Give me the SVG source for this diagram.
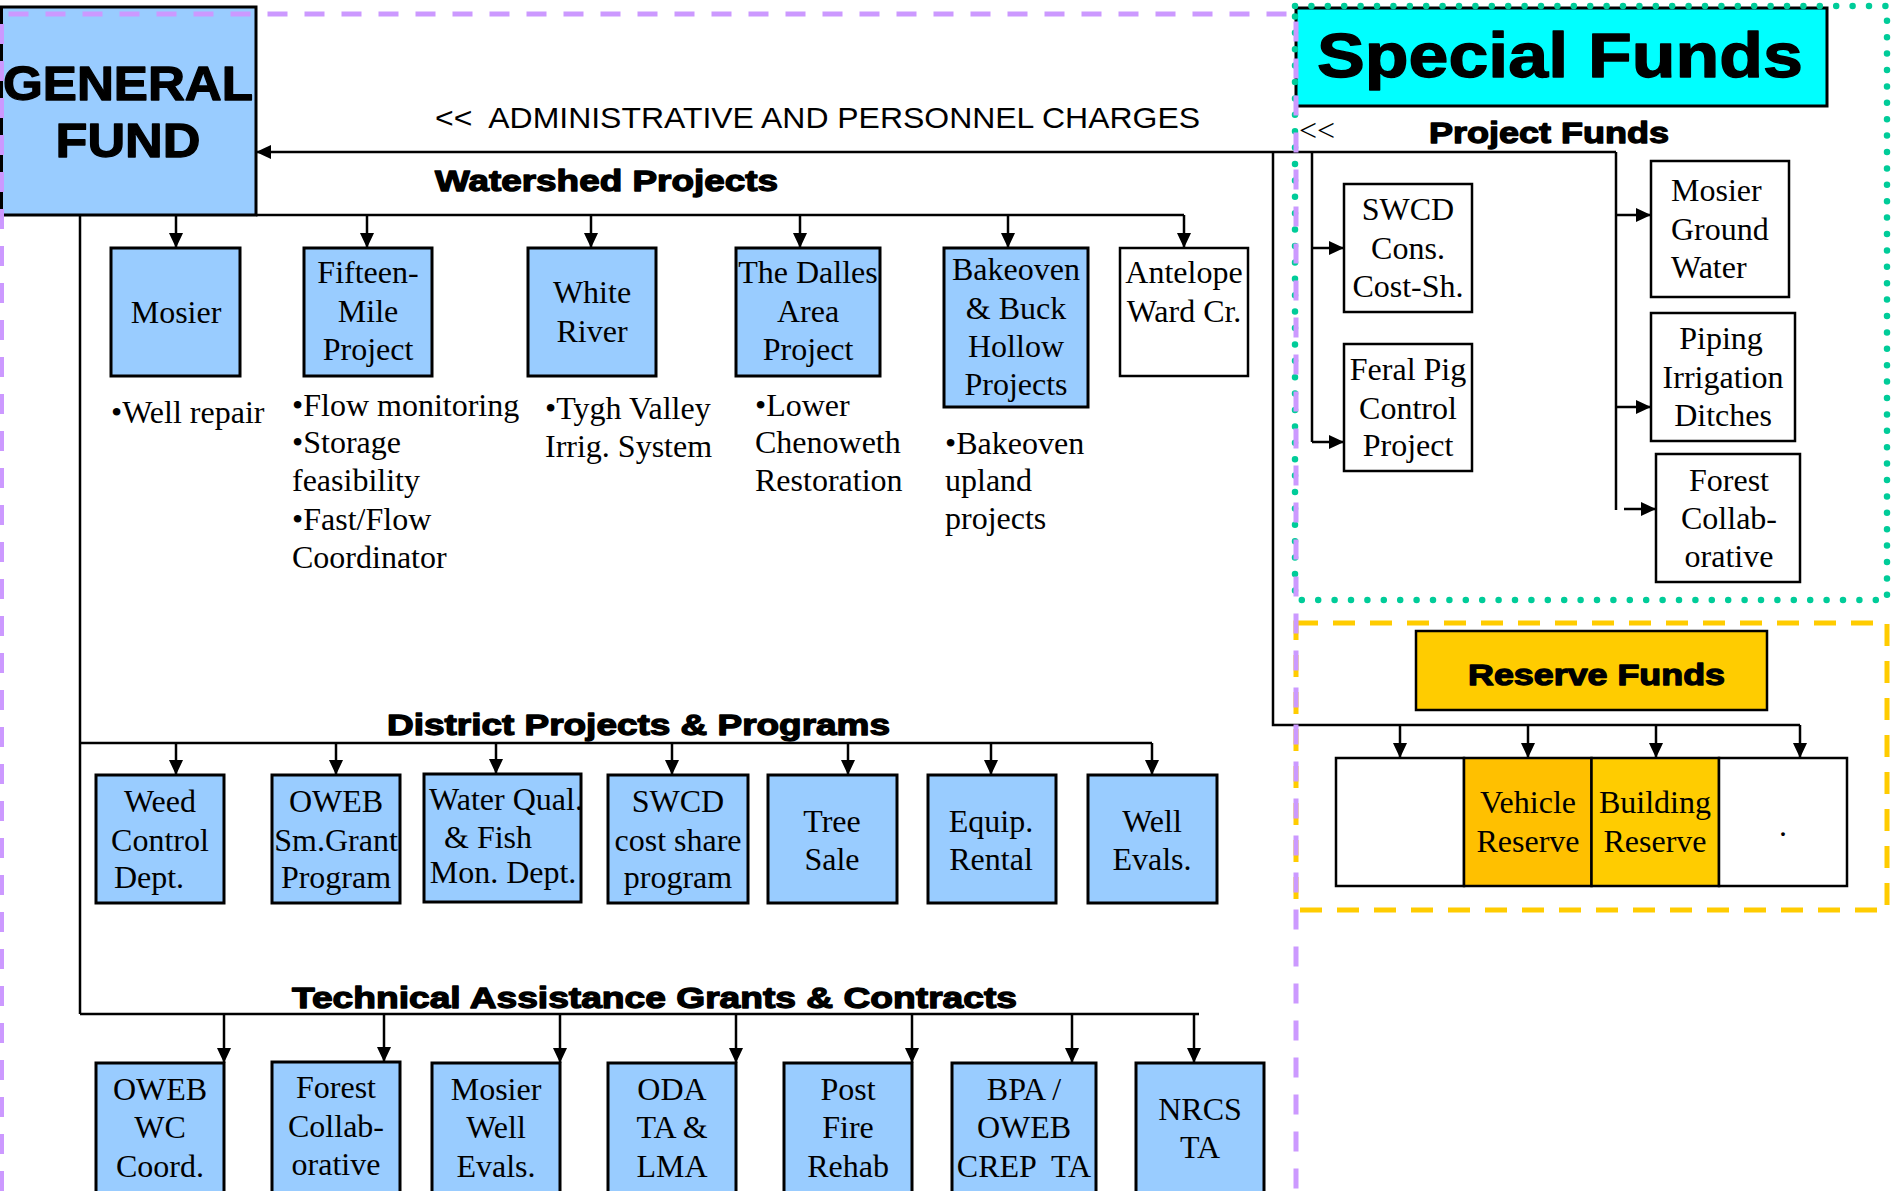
<svg xmlns="http://www.w3.org/2000/svg" width="1895" height="1191" viewBox="0 0 1895 1191">
<style>
.bg{fill:#fff}
.nb{fill:#99CCFF;stroke:#000;stroke-width:3}
.nw{fill:#fff;stroke:#000;stroke-width:2.5}
.t{font-family:"Liberation Serif","Times New Roman",serif;font-size:32px;fill:#000}
.m{text-anchor:middle}
.h{font-family:"Liberation Sans",Arial,sans-serif;font-weight:bold;fill:#000;stroke:#000;stroke-width:1.3;stroke-linejoin:round}
.ln{fill:none;stroke:#000;stroke-width:2.5}
.ar{fill:none;stroke:#000;stroke-width:2.5;marker-end:url(#ah)}
.pre{white-space:pre}
</style>
<defs>
<marker id="ah" viewBox="0 0 15 14" refX="15" refY="7" markerWidth="15" markerHeight="14" markerUnits="userSpaceOnUse" orient="auto"><path d="M0,0 L15,7 L0,14 z" fill="#000"/></marker>
</defs>
<rect class="bg" x="0" y="0" width="1895" height="1191"/>

<g id="connectors">
<path class="ar" d="M1616,152 H256"/>
<path class="ln" d="M256,215 H1184"/>
<path class="ar" d="M176,215 V248"/>
<path class="ar" d="M367,215 V248"/>
<path class="ar" d="M591,215 V248"/>
<path class="ar" d="M800,215 V248"/>
<path class="ar" d="M1008,215 V248"/>
<path class="ar" d="M1184,215 V248"/>
<path class="ln" d="M80,215 V1014"/>
<path class="ln" d="M80,743 H1152"/>
<path class="ar" d="M176,743 V775"/>
<path class="ar" d="M336,743 V775"/>
<path class="ar" d="M496,743 V774"/>
<path class="ar" d="M672,743 V775"/>
<path class="ar" d="M848,743 V775"/>
<path class="ar" d="M991,743 V775"/>
<path class="ar" d="M1152,743 V775"/>
<path class="ln" d="M80,1014 H1199"/>
<path class="ar" d="M224,1015 V1063"/>
<path class="ar" d="M384,1015 V1062"/>
<path class="ar" d="M560,1015 V1063"/>
<path class="ar" d="M736,1015 V1063"/>
<path class="ar" d="M912,1015 V1063"/>
<path class="ar" d="M1072,1015 V1063"/>
<path class="ar" d="M1194,1015 V1063"/>
<path class="ln" d="M1312,152 V442"/>
<path class="ar" d="M1312,248 H1344"/>
<path class="ar" d="M1312,442 H1344"/>
<path class="ln" d="M1616,152 V510"/>
<path class="ar" d="M1616,215 H1651"/>
<path class="ar" d="M1616,407 H1651"/>
<path class="ar" d="M1624,509 H1656"/>
<path class="ln" d="M1273,152 V725 H1800"/>
<path class="ar" d="M1400,725 V758"/>
<path class="ar" d="M1528,725 V758"/>
<path class="ar" d="M1656,725 V758"/>
<path class="ar" d="M1800,725 V758"/>
</g>

<g id="general-fund">
<rect class="nb" x="1.5" y="7" width="254.5" height="208"/>
<text class="h m" x="128" y="100" font-size="49" stroke-width="1.8" textLength="250" lengthAdjust="spacingAndGlyphs">GENERAL</text>
<text class="h m" x="128" y="157" font-size="49" stroke-width="1.8" textLength="145" lengthAdjust="spacingAndGlyphs">FUND</text>
</g>

<g id="labels">
<text x="435" y="128" font-family="'Liberation Sans',Arial,sans-serif" font-size="30" textLength="765" lengthAdjust="spacingAndGlyphs" class="pre">&lt;&lt;  ADMINISTRATIVE AND PERSONNEL CHARGES</text>
<text class="h" x="435" y="191" font-size="30" textLength="343" lengthAdjust="spacingAndGlyphs">Watershed Projects</text>
<text class="h" x="387" y="735" font-size="30" textLength="503" lengthAdjust="spacingAndGlyphs">District Projects &amp; Programs</text>
<text class="h" x="292" y="1008" font-size="30" textLength="725" lengthAdjust="spacingAndGlyphs">Technical Assistance Grants &amp; Contracts</text>
</g>

<g id="mosier">
<rect class="nb" x="111" y="248" width="129" height="128"/>
<text class="t m" x="176" y="323">Mosier</text>
<text class="t" x="111" y="423">•Well repair</text>
</g>
<g id="fifteen-mile">
<rect class="nb" x="304" y="248" width="128" height="128"/>
<text class="t m" x="368" y="283">Fifteen-</text>
<text class="t m" x="368" y="322">Mile</text>
<text class="t m" x="368" y="360">Project</text>
<text class="t" x="292" y="416">•Flow monitoring</text>
<text class="t" x="292" y="453">•Storage</text>
<text class="t" x="292" y="491">feasibility</text>
<text class="t" x="292" y="530">•Fast/Flow</text>
<text class="t" x="292" y="568">Coordinator</text>
</g>
<g id="white-river">
<rect class="nb" x="528" y="248" width="128" height="128"/>
<text class="t m" x="592" y="303">White</text>
<text class="t m" x="592" y="342">River</text>
<text class="t" x="545" y="419">•Tygh Valley</text>
<text class="t" x="545" y="457">Irrig. System</text>
</g>
<g id="the-dalles">
<rect class="nb" x="736" y="248" width="144" height="128"/>
<text class="t m" x="808" y="283">The Dalles</text>
<text class="t m" x="808" y="322">Area</text>
<text class="t m" x="808" y="360">Project</text>
<text class="t" x="755" y="416">•Lower</text>
<text class="t" x="755" y="453">Chenoweth</text>
<text class="t" x="755" y="491">Restoration</text>
</g>
<g id="bakeoven">
<rect class="nb" x="944" y="248" width="144" height="159"/>
<text class="t m" x="1016" y="280">Bakeoven</text>
<text class="t m" x="1016" y="319">&amp; Buck</text>
<text class="t m" x="1016" y="357">Hollow</text>
<text class="t m" x="1016" y="395">Projects</text>
<text class="t" x="945" y="454">•Bakeoven</text>
<text class="t" x="945" y="491">upland</text>
<text class="t" x="945" y="529">projects</text>
</g>
<g id="antelope">
<rect class="nw" x="1120" y="248" width="128" height="128"/>
<text class="t m" x="1184" y="283">Antelope</text>
<text class="t m" x="1184" y="322">Ward Cr.</text>
</g>

<g id="weed-control">
<rect class="nb" x="96" y="775" width="128" height="128"/>
<text class="t m" x="160" y="812">Weed</text>
<text class="t m" x="160" y="851">Control</text>
<text class="t m" x="149" y="888">Dept.</text>
</g>
<g id="oweb-small-grant">
<rect class="nb" x="272" y="775" width="128" height="128"/>
<text class="t m" x="336" y="812">OWEB</text>
<text class="t m" x="336" y="851">Sm.Grant</text>
<text class="t m" x="336" y="888">Program</text>
</g>
<g id="water-quality">
<rect class="nb" x="424" y="774" width="157" height="128"/>
<text class="t m" x="506" y="810">Water Qual.</text>
<text class="t m" x="488" y="848">&amp; Fish</text>
<text class="t m" x="503" y="883">Mon. Dept.</text>
</g>
<g id="swcd-cost-share">
<rect class="nb" x="608" y="775" width="140" height="128"/>
<text class="t m" x="678" y="812">SWCD</text>
<text class="t m" x="678" y="851">cost share</text>
<text class="t m" x="678" y="888">program</text>
</g>
<g id="tree-sale">
<rect class="nb" x="768" y="775" width="129" height="128"/>
<text class="t m" x="832" y="832">Tree</text>
<text class="t m" x="832" y="870">Sale</text>
</g>
<g id="equip-rental">
<rect class="nb" x="928" y="775" width="128" height="128"/>
<text class="t m" x="991" y="832">Equip.</text>
<text class="t m" x="991" y="870">Rental</text>
</g>
<g id="well-evals">
<rect class="nb" x="1088" y="775" width="129" height="128"/>
<text class="t m" x="1152" y="832">Well</text>
<text class="t m" x="1152" y="870">Evals.</text>
</g>

<g id="oweb-wc">
<rect class="nb" x="96" y="1063" width="128" height="140"/>
<text class="t m" x="160" y="1100">OWEB</text>
<text class="t m" x="160" y="1138">WC</text>
<text class="t m" x="160" y="1177">Coord.</text>
</g>
<g id="forest-collab-ta">
<rect class="nb" x="272" y="1062" width="128" height="140"/>
<text class="t m" x="336" y="1098">Forest</text>
<text class="t m" x="336" y="1137">Collab-</text>
<text class="t m" x="336" y="1175">orative</text>
</g>
<g id="mosier-well">
<rect class="nb" x="432" y="1063" width="128" height="140"/>
<text class="t m" x="496" y="1100">Mosier</text>
<text class="t m" x="496" y="1138">Well</text>
<text class="t m" x="496" y="1177">Evals.</text>
</g>
<g id="oda">
<rect class="nb" x="608" y="1063" width="128" height="140"/>
<text class="t m" x="672" y="1100">ODA</text>
<text class="t m" x="672" y="1138">TA &amp;</text>
<text class="t m" x="672" y="1177">LMA</text>
</g>
<g id="post-fire">
<rect class="nb" x="784" y="1063" width="128" height="140"/>
<text class="t m" x="848" y="1100">Post</text>
<text class="t m" x="848" y="1138">Fire</text>
<text class="t m" x="848" y="1177">Rehab</text>
</g>
<g id="bpa-oweb">
<rect class="nb" x="952" y="1063" width="144" height="140"/>
<text class="t m" x="1024" y="1100">BPA /</text>
<text class="t m" x="1024" y="1138">OWEB</text>
<text class="t m pre" x="1024" y="1177">CREP  TA</text>
</g>
<g id="nrcs">
<rect class="nb" x="1136" y="1063" width="128" height="140"/>
<text class="t m" x="1200" y="1120">NRCS</text>
<text class="t m" x="1200" y="1158">TA</text>
</g>

<g id="special-funds">
<rect x="1296" y="8" width="531" height="98" fill="#00FFFF" stroke="#000" stroke-width="3"/>
<text class="h" x="1317" y="77" font-size="63" stroke-width="2" textLength="486" lengthAdjust="spacingAndGlyphs">Special Funds</text>
<text class="t" x="1299" y="141" font-size="28">&lt;&lt;</text>
<text class="h" x="1429" y="143" font-size="30" textLength="240" lengthAdjust="spacingAndGlyphs">Project Funds</text>
</g>
<g id="swcd-cons">
<rect class="nw" x="1344" y="184" width="128" height="128"/>
<text class="t m" x="1408" y="220">SWCD</text>
<text class="t m" x="1408" y="259">Cons.</text>
<text class="t m" x="1408" y="297">Cost-Sh.</text>
</g>
<g id="feral-pig">
<rect class="nw" x="1344" y="344" width="128" height="127"/>
<text class="t m" x="1408" y="380">Feral Pig</text>
<text class="t m" x="1408" y="419">Control</text>
<text class="t m" x="1408" y="456">Project</text>
</g>
<g id="mosier-ground-water">
<rect class="nw" x="1651" y="161" width="138" height="136"/>
<text class="t" x="1671" y="201">Mosier</text>
<text class="t" x="1671" y="240">Ground</text>
<text class="t" x="1671" y="278">Water</text>
</g>
<g id="piping">
<rect class="nw" x="1651" y="313" width="144" height="128"/>
<text class="t m" x="1721" y="349">Piping</text>
<text class="t m" x="1723" y="388">Irrigation</text>
<text class="t m" x="1723" y="426">Ditches</text>
</g>
<g id="forest-collab">
<rect class="nw" x="1656" y="454" width="144" height="128"/>
<text class="t m" x="1729" y="491">Forest</text>
<text class="t m" x="1729" y="529">Collab-</text>
<text class="t m" x="1729" y="567">orative</text>
</g>

<g id="reserve-funds">
<rect x="1416" y="631" width="351" height="79" fill="#FFCC00" stroke="#000" stroke-width="2.5"/>
<text class="h" x="1468" y="685" font-size="30" textLength="257" lengthAdjust="spacingAndGlyphs">Reserve Funds</text>
</g>
<g id="reserve-blank">
<rect class="nw" x="1336" y="758" width="128" height="128"/>
</g>
<g id="vehicle-reserve">
<rect x="1464" y="758" width="127.5" height="128" fill="#FFC000" stroke="#000" stroke-width="2.5"/>
<text class="t m" x="1528" y="813">Vehicle</text>
<text class="t m" x="1528" y="852">Reserve</text>
</g>
<g id="building-reserve">
<rect x="1591.5" y="758" width="127.5" height="128" fill="#FFCC00" stroke="#000" stroke-width="2.5"/>
<text class="t m" x="1655" y="813">Building</text>
<text class="t m" x="1655" y="852">Reserve</text>
</g>
<g id="reserve-dot">
<rect class="nw" x="1719" y="758" width="128" height="128"/>
<text class="t m" x="1783" y="836">.</text>
</g>

<g id="borders">
<rect x="1295" y="6" width="592" height="594" fill="none" stroke="#00CC99" stroke-width="6.5" stroke-dasharray="0 16.4" stroke-linecap="round"/>
<rect x="1296" y="623" width="591" height="287" fill="none" stroke="#FFCC00" stroke-width="5" stroke-dasharray="22 15"/>
<path d="M1.5,1191 V14 H1296 V1191" fill="none" stroke="#CC99FF" stroke-width="5" stroke-dasharray="20 17"/>
</g>
</svg>
